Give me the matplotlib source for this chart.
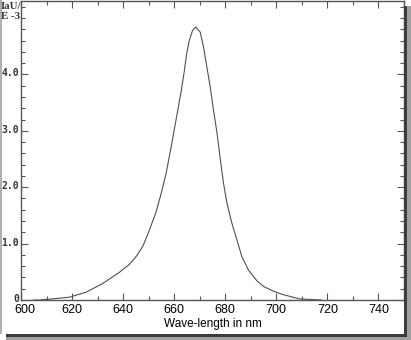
import numpy as np
import matplotlib.pyplot as plt
from matplotlib.patches import Rectangle
from matplotlib.ticker import MultipleLocator, FixedFormatter, FixedLocator
from matplotlib.transforms import ScaledTranslation

longitud = [605.0, 607.2, 612.3, 619.0, 625.6, 631.9, 638.5, 642.4, 645.1,
            647.7, 650.3, 652.9, 654.9, 656.8, 658.8, 660.7, 662.7, 664.0,
            664.9, 665.9, 667.2, 668.5, 668.9, 670.2, 671.5, 672.8, 674.1,
            675.4, 676.8, 678.1, 679.3, 680.7, 682.6, 684.6, 686.5, 689.1,
            692.4, 695.0, 699.2, 702.3, 709.0, 717.6]
intensidad = [0.0, 0.0, 0.02, 0.05, 0.14, 0.29, 0.49, 0.63, 0.77,
              0.95, 1.24, 1.56, 1.89, 2.24, 2.71, 3.19, 3.69, 4.07,
              4.37, 4.60, 4.78, 4.84, 4.81, 4.75, 4.48, 4.13, 3.78,
              3.36, 2.95, 2.48, 2.07, 1.71, 1.36, 1.06, 0.77, 0.53,
              0.34, 0.24, 0.15, 0.10, 0.02, 0.0]

x_ticks = [600, 620, 640, 660, 680, 700, 720, 740]
y_ticks = [0, 1, 2, 3, 4]
y_labels = ["0", "1.0", "2.0", "3.0", "4.0"]

fig = plt.figure(figsize=(4.11, 3.40), dpi=100)
W, H = 411, 340

# Sombra del panel
def rect(x, y, w, h, c):
    fig.patches.append(Rectangle((x / W, y / H), w / W, h / H, transform=fig.transFigure,
                                 facecolor=c, edgecolor="none", zorder=0))

rect(6, 0, 405, 6, "#a0a0a0")
rect(404, 0, 7, 334, "#a0a0a0")
rect(6, 3, 401, 3, "#3c3c3c")
rect(404, 3, 3, 331, "#3c3c3c")
rect(0, 6, 1.5, 334, "#b0b0b0")

ax = fig.add_axes([21 / W, 40 / H, 383 / W, 299.5 / H])
ax.plot(longitud, intensidad, color="#505050", linewidth=0.8)

ax.set_xlim(600, 750)
ax.set_ylim(0, 300 / 56.5)

ax.xaxis.set_major_locator(FixedLocator(x_ticks))
ax.xaxis.set_minor_locator(MultipleLocator(10))
ax.yaxis.set_major_locator(FixedLocator(y_ticks))
ax.yaxis.set_major_formatter(FixedFormatter(y_labels))
ax.yaxis.set_minor_locator(MultipleLocator(0.2))

ax.tick_params(which="both", direction="in", top=True, right=True,
               color="#555555", width=0.8)
ax.tick_params(which="major", length=5)
ax.tick_params(which="minor", length=3)
ax.tick_params(axis="x", which="major", labelsize=9, pad=3)
ax.tick_params(axis="y", which="major", labelsize=7, pad=1.5)

fig.canvas.draw()
for lbl in ax.get_xticklabels():
    lbl.set_family("Liberation Sans")
for lbl in ax.get_yticklabels():
    lbl.set_family("DejaVu Sans Mono")
    lbl.set_fontweight("bold")
    lbl.set_color("#333333")
    lbl.set_transform(lbl.get_transform() + ScaledTranslation(0, 2 / 100, fig.dpi_scale_trans))
ax.get_xticklabels()[0].set_transform(
    ax.get_xticklabels()[0].get_transform() + ScaledTranslation(4 / 100, 0, fig.dpi_scale_trans))

for s in ax.spines.values():
    s.set_color("#555555")
    s.set_linewidth(1.0)

ax.set_xlabel("Wave-length in nm", fontsize=8.5, family="Liberation Sans", labelpad=1)
fig.text(1 / W, 1 - 2 / H, "IaU/\nE -3", ha="left", va="top", fontsize=7.8,
         family="Liberation Serif", fontweight="bold", color="#333333", linespacing=1.15)

fig.savefig("out.png", dpi=100)
